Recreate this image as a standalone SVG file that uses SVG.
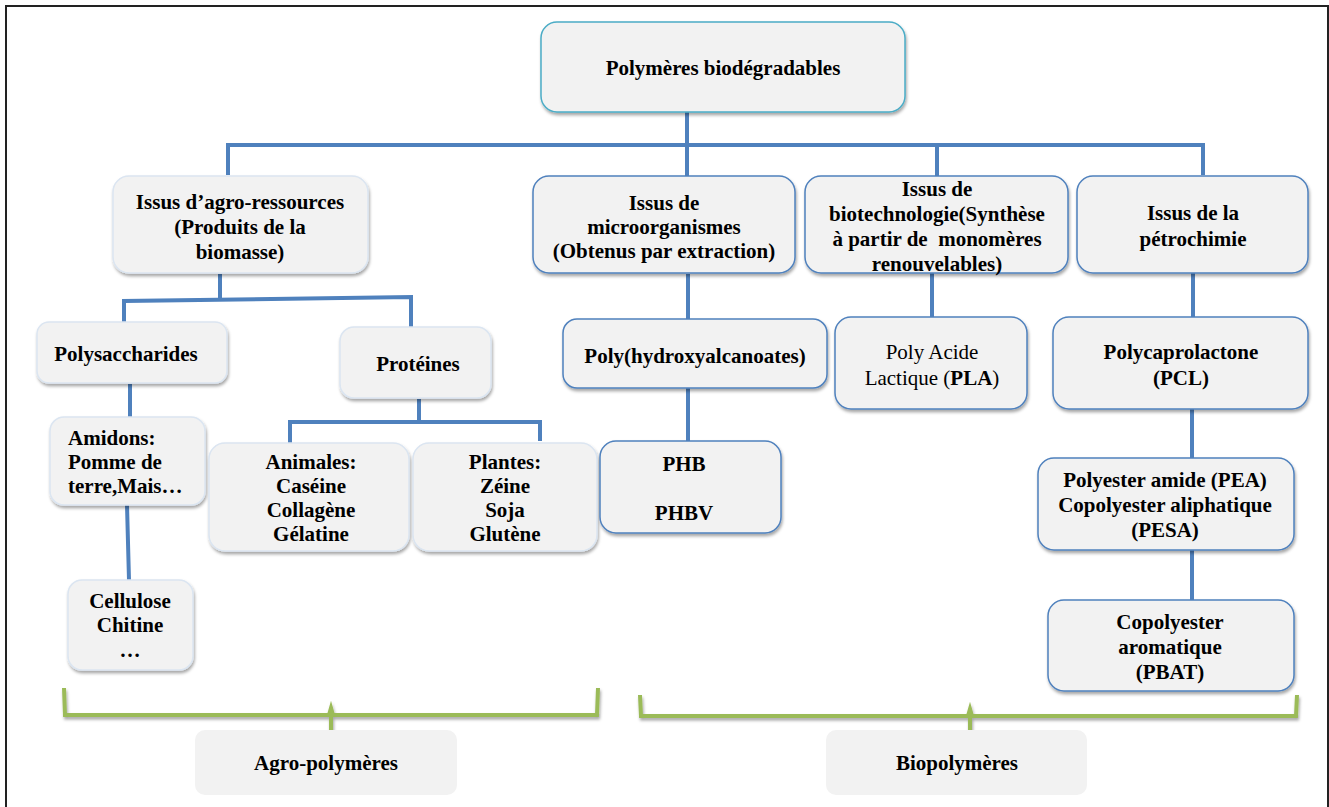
<svg xmlns="http://www.w3.org/2000/svg" width="1329" height="807" viewBox="0 0 1329 807">
<style>
text{font-family:"Liberation Serif","Times New Roman",serif;font-size:21px;font-weight:bold;fill:#000;text-anchor:middle}
.l{text-anchor:start}
.n{font-weight:normal}
.box{fill:#f2f2f2;filter:url(#sh)}
.lt{stroke:#dbe5f1;stroke-width:1.5}
.bl{stroke:#4f81bd;stroke-width:1.5}
.tl{stroke:#4bacc6;stroke-width:1.5}
.lbl{fill:#f2f2f2;stroke:none}
.c{fill:none;stroke:#4f81bd;stroke-width:4;stroke-linejoin:miter}
.g{fill:none;stroke:#9bbb59;stroke-width:4;filter:url(#sh)}
</style>
<defs>
<filter id="sh" x="-10%" y="-10%" width="120%" height="130%">
<feDropShadow dx="1" dy="2.5" stdDeviation="1.5" flood-color="#000" flood-opacity="0.35"/>
</filter>
</defs>
<rect x="0" y="0" width="1329" height="807" fill="#fff"/>
<rect x="6" y="6" width="1322" height="810" fill="none" stroke="#222" stroke-width="2"/>

<g id="connectors">
<path class="c" d="M687 112V145M228 175V145H1203V175M687 145V176M937 145V176"/>
<path class="c" d="M220 274V299M124 322V301L411 297V327"/>
<path class="c" d="M130 384V417M127 505L129 580"/>
<path class="c" d="M419 399V421M290 443V422H540V441"/>
<path class="c" d="M688 274V319M688 388V441"/>
<path class="c" d="M932 262V317"/>
<path class="c" d="M1193 266V317M1192 409V458M1192 550V600"/>
<path class="g" d="M64 688L65 715H329L331 708L333 715H597L598 688M331 715V742"/>
<path class="g" d="M640 695L641 716H968L970 709L972 716H1296L1297 695M970 716V742"/>
</g>

<g id="root"><rect class="box tl" x="541" y="22" width="364" height="90" rx="16"/>
<text x="723" y="75">Polymères biodégradables</text></g>

<g id="agro"><rect class="box lt" x="113" y="176" width="255" height="97" rx="16"/>
<text x="240" y="209">Issus d’agro-ressources</text><text x="240" y="234">(Produits de la</text><text x="240" y="259">biomasse)</text></g>

<g id="micro"><rect class="box bl" x="533" y="176" width="262" height="97" rx="16"/>
<text x="664" y="210">Issus de</text><text x="664" y="234">microorganismes</text><text x="664" y="258">(Obtenus par extraction)</text></g>

<g id="biotech"><rect class="box bl" x="805" y="176" width="263" height="97" rx="16"/>
<text x="937" y="196">Issus de</text><text x="937" y="221">biotechnologie(Synthèse</text><text x="937" y="246" xml:space="preserve">à partir de  monomères</text><text x="937" y="271">renouvelables)</text></g>

<g id="petro"><rect class="box bl" x="1077" y="176" width="231" height="97" rx="16"/>
<text x="1193" y="220">Issus de la</text><text x="1193" y="246">pétrochimie</text></g>

<g id="polysacch"><rect class="box lt" x="37" y="322" width="190" height="61" rx="12"/>
<text x="126" y="361">Polysaccharides</text></g>

<g id="proteines"><rect class="box lt" x="340" y="327" width="151" height="71" rx="14"/>
<text x="418" y="371">Protéines</text></g>

<g id="amidons"><rect class="box lt" x="50" y="417" width="155" height="88" rx="14"/>
<text class="l" x="68" y="445">Amidons:</text><text class="l" x="68" y="469">Pomme de</text><text class="l" x="68" y="493">terre,Mais…</text></g>

<g id="cellulose"><rect class="box lt" x="68" y="580" width="125" height="90" rx="14"/>
<text x="130" y="608">Cellulose</text><text x="130" y="632">Chitine</text><text x="130" y="657">…</text></g>

<g id="animales"><rect class="box lt" x="209" y="443" width="200" height="108" rx="16"/>
<text x="311" y="469">Animales:</text><text x="311" y="493">Caséine</text><text x="311" y="517">Collagène</text><text x="311" y="541">Gélatine</text></g>

<g id="plantes"><rect class="box lt" x="413" y="443" width="184" height="108" rx="16"/>
<text x="505" y="469">Plantes:</text><text x="505" y="493">Zéine</text><text x="505" y="517">Soja</text><text x="505" y="541">Glutène</text></g>

<g id="pha"><rect class="box bl" x="563" y="319" width="264" height="69" rx="14"/>
<text x="695" y="363">Poly(hydroxyalcanoates)</text></g>

<g id="phb"><rect class="box bl" x="600" y="441" width="181" height="92" rx="16"/>
<text x="684" y="471">PHB</text><text x="684" y="520">PHBV</text></g>

<g id="pla"><rect class="box bl" x="835" y="317" width="192" height="92" rx="16"/>
<text class="n" x="932" y="359">Poly Acide</text><text class="n" x="932" y="385">Lactique (<tspan font-weight="bold">PLA</tspan>)</text></g>

<g id="pcl"><rect class="box bl" x="1053" y="317" width="255" height="92" rx="16"/>
<text x="1181" y="359">Polycaprolactone</text><text x="1181" y="385">(PCL)</text></g>

<g id="pea"><rect class="box bl" x="1038" y="458" width="256" height="92" rx="16"/>
<text x="1165" y="487">Polyester amide (PEA)</text><text x="1165" y="512">Copolyester aliphatique</text><text x="1165" y="537">(PESA)</text></g>

<g id="pbat"><rect class="box bl" x="1048" y="600" width="246" height="91" rx="16"/>
<text x="1170" y="629">Copolyester</text><text x="1170" y="654">aromatique</text><text x="1170" y="679">(PBAT)</text></g>

<g id="agropolymeres"><rect class="lbl" x="195" y="730" width="262" height="65" rx="10"/>
<text x="326" y="770">Agro-polymères</text></g>

<g id="biopolymeres"><rect class="lbl" x="826" y="730" width="261" height="65" rx="10"/>
<text x="957" y="770">Biopolymères</text></g>
</svg>
